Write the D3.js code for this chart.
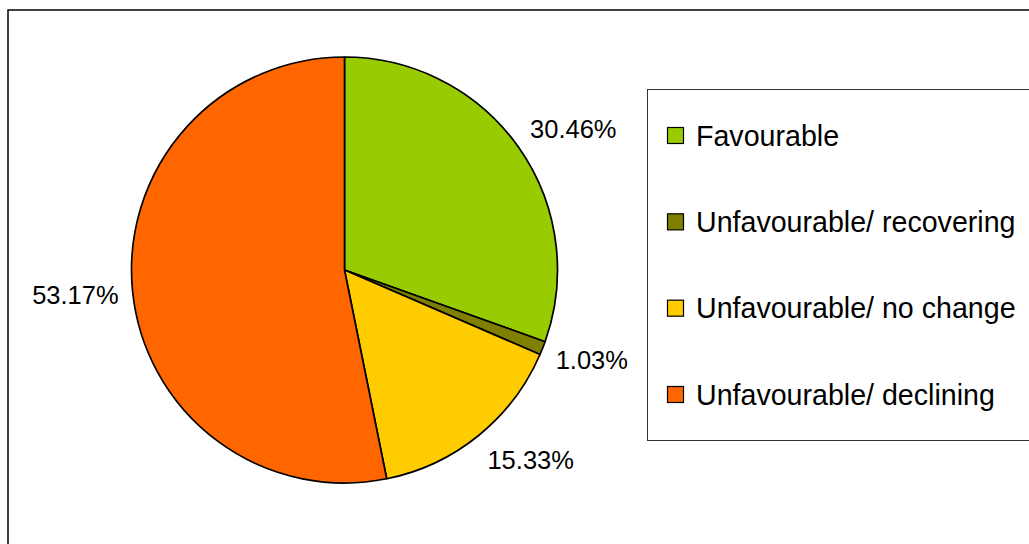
<!DOCTYPE html>
<html>
<head>
<meta charset="utf-8">
<script src="https://cdn.jsdelivr.net/npm/d3@7"></script>
<style>
  html, body { margin: 0; padding: 0; background: #fff; }
  svg { display: block; font-family: "Liberation Sans", Arial, sans-serif; }
</style>
</head>
<body>
<svg id="chart" width="1029" height="544"></svg>
<script>
const categories = ["Favourable", "Unfavourable/ recovering", "Unfavourable/ no change", "Unfavourable/ declining"];
const values = [30.46, 1.03, 15.33, 53.17];
const labels = ["30.46%", "1.03%", "15.33%", "53.17%"];
const colors = ["#99CC00", "#808000", "#FFCC00", "#FF6600"];

const svg = d3.select("#chart");
const W = 1029, H = 544;

// outer chart border
svg.append("rect")
  .attr("x", 8).attr("y", 10)
  .attr("width", W + 20).attr("height", H + 20)
  .attr("fill", "#fff").attr("stroke", "#000").attr("stroke-width", 1.5);

const cx = 344.5, cy = 270, R = 213;
const g = svg.append("g").attr("transform", `translate(${cx},${cy})`);

const pie = d3.pie().sort(null).value(d => d)(values);
const arc = d3.arc().innerRadius(0).outerRadius(R);

g.selectAll("path.slice").data(pie).join("path")
  .attr("class", "slice")
  .attr("d", arc)
  .attr("fill", (d, i) => colors[i])
  .attr("stroke", "#000")
  .attr("stroke-width", 1.7)
  .attr("stroke-linejoin", "round");

// labels
const fs = 25.5;
const labelR = R + 14;
g.selectAll("text.lbl").data(pie).join("text")
  .attr("class", "lbl")
  .each(function(d, i) {
    const a = (d.startAngle + d.endAngle) / 2;
    const sx = Math.sin(a), cyUp = Math.cos(a);
    const x = sx * labelR;
    const y = -cyUp * labelR;
    const anchor = sx > 0.2 ? "start" : (sx < -0.2 ? "end" : "middle");
    const base = y + fs * 0.36 - cyUp * fs * 0.7;
    d3.select(this)
      .attr("x", x).attr("y", base)
      .attr("text-anchor", anchor)
      .attr("font-size", fs)
      .attr("fill", "#000")
      .text(labels[i]);
  });

// legend
const lg = svg.append("g");
lg.append("rect")
  .attr("x", 647.5).attr("y", 89.5)
  .attr("width", 420).attr("height", 351)
  .attr("fill", "#fff").attr("stroke", "#333").attr("stroke-width", 1);

const rowY = d3.scalePoint().domain(categories).range([136, 395]);
const items = lg.selectAll("g.item").data(categories).join("g").attr("class", "item")
  .attr("transform", d => `translate(667,${rowY(d)})`);
items.append("rect")
  .attr("x", 0.5).attr("y", -8.5).attr("width", 16).attr("height", 16)
  .attr("fill", (d, i) => colors[i]).attr("stroke", "#000").attr("stroke-width", 1.2);
items.append("text")
  .attr("x", 29).attr("y", 9.5)
  .attr("font-size", 28.6)
  .attr("fill", "#000")
  .text(d => d);
</script>
</body>
</html>
